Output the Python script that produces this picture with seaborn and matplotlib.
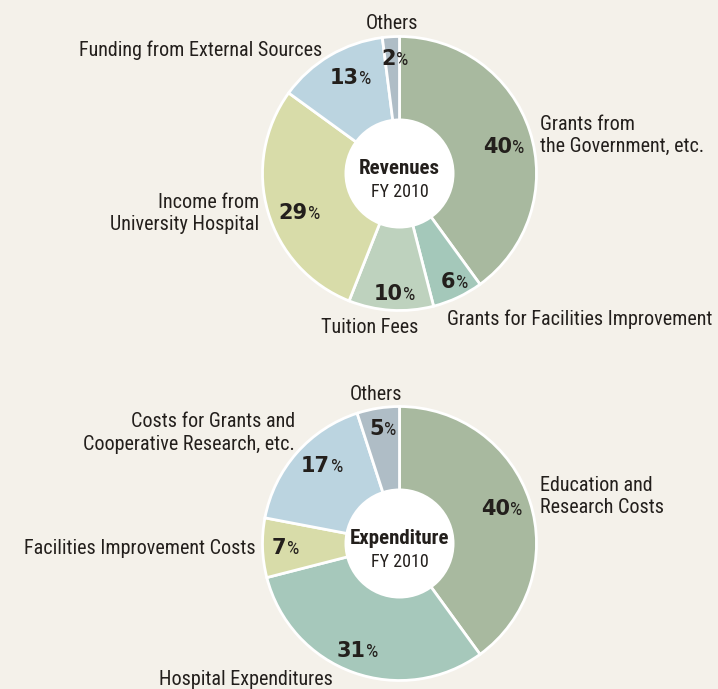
import numpy as np
import seaborn as sns
import matplotlib.pyplot as plt
from matplotlib.patches import Circle

# revenues FY 2010 (share in %)
rev_labels = ['Grants from\nthe Government, etc.', 'Grants for Facilities Improvement', 'Tuition Fees',
              'Income from\nUniversity Hospital', 'Funding from External Sources', 'Others']
rev_values = [40, 6, 10, 29, 13, 2]
rev_colors = ['#A8B99F', '#A4C8BA', '#BED2BE', '#D8DCA9', '#BBD4E0', '#AFBDC6']

# expenditure FY 2010 (share in %)
exp_labels = ['Education and\nResearch Costs', 'Hospital Expenditures', 'Facilities Improvement Costs',
              'Costs for Grants and\nCooperative Research, etc.', 'Others']
exp_values = [40, 31, 7, 17, 5]
exp_colors = ['#A8B99F', '#A6C8BB', '#D8DCA9', '#BBD4E0', '#AFBDC6']

bg = '#F4F1EA'
ink = '#231F1C'
narrow = ['Roboto Condensed', 'DejaVu Sans']

sns.set_theme(style='white')
plt.rcParams['font.family'] = narrow

fig = plt.figure(figsize=(7.18, 6.89), dpi=100)
fig.patch.set_facecolor(bg)
ax = fig.add_axes([0, 0, 1, 1])
ax.set_facecolor(bg)


def donut(values, colors, center, title, pct_r, nudge):
    wedges, _ = ax.pie(values, colors=colors, startangle=-90, counterclock=True,
                       center=center, radius=137, frame=True,
                       wedgeprops=dict(edgecolor='white', linewidth=2))
    ax.add_patch(Circle(center, 55, facecolor='white', edgecolor='none', zorder=3))
    for w, v, r, (nx, ny) in zip(wedges, values, pct_r, nudge):
        mid = np.deg2rad((w.theta1 + w.theta2) / 2)
        x = center[0] + r * 137 * np.cos(mid) + nx
        y = center[1] + r * 137 * np.sin(mid) + ny
        dw = 14.3 * len(str(v))
        jx = x + (dw - 11) / 2
        ax.text(jx, y + 7.5, str(v), ha='right', va='baseline', fontsize=15,
                fontweight='bold', family='DejaVu Sans', color=ink, zorder=4)
        ax.text(jx + 0.5, y + 7.5, '%', ha='left', va='baseline', fontsize=14,
                color=ink, zorder=4)
    ax.text(center[0], center[1] + 0.5, title, ha='center', va='baseline', fontsize=15,
            fontweight='bold', color=ink, zorder=4)
    ax.text(center[0], center[1] + 23.5, 'FY 2010', ha='center', va='baseline', fontsize=13,
            color=ink, zorder=4)


donut(rev_values, rev_colors, (399.5, 173.5), 'Revenues', [0.78, 0.88, 0.87, 0.77, 0.8, 0.85],
      [(2, 5), (3, -2), (2, 0), (1, 9), (6, -3), (2, 0)])
donut(exp_values, exp_colors, (399.5, 543.5), 'Expenditure', [0.78, 0.83, 0.84, 0.8, 0.85],
      [(0, -3), (-4, -1), (0, -1), (4, -7), (1, -1)])

lab = dict(fontsize=14.5, color=ink, linespacing=1.25)
dy = 1.5
ax.text(540, 134 + dy, rev_labels[0], ha='left', va='center', **lab)
ax.text(447, 318 + dy, rev_labels[1], ha='left', va='center', **lab)
ax.text(370, 326 + dy, rev_labels[2], ha='center', va='center', **lab)
ax.text(259, 212 + dy, rev_labels[3], ha='right', va='center', multialignment='right', **lab)
ax.text(322, 49 + dy, rev_labels[4], ha='right', va='center', **lab)
ax.text(392, 22 + dy, rev_labels[5], ha='center', va='center', **lab)

ax.text(540, 495 + dy, exp_labels[0], ha='left', va='center', **lab)
ax.text(246, 678 + dy, exp_labels[1], ha='center', va='center', **lab)
ax.text(256, 547 + dy, exp_labels[2], ha='right', va='center', **lab)
ax.text(295, 431.5 + dy, exp_labels[3], ha='right', va='center', multialignment='right', **lab)
ax.text(376, 393 + dy, exp_labels[4], ha='center', va='center', **lab)

ax.set_xlim(0, 718)
ax.set_ylim(689, 0)
ax.set_axis_off()

fig.savefig('out.png', dpi=100, facecolor=bg)
